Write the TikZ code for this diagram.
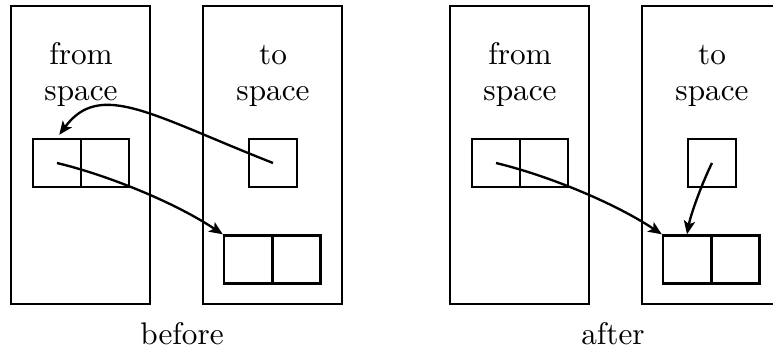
\documentclass[tikz,border=0pt]{standalone}
\usetikzlibrary{arrows.meta}
\begin{document}
\def\px{0.32pt}
\begin{tikzpicture}[x=0.32pt,y=-0.32pt,line width=0.75pt,
  space/.style={draw,minimum width=139*\px,minimum height=298*\px,inner sep=0pt},
  cell/.style={draw,minimum width=48*\px,minimum height=48*\px,inner sep=0pt},
  lbl/.style={anchor=base,inner sep=0pt},
  ptr/.style={-{Stealth[length=4.3pt,width=3.6pt,inset=1pt]}}]
\useasboundingbox (0,0) rectangle (773,352);
% before
\node[space] (bf) at (80.5,155) {};
\node[space] (bt) at (272.5,155) {};
\node[lbl] (bf1) at (81,65) {from};
\node[lbl] (bf2) at (81,101) {space};
\node[lbl] (bt1) at (273,65) {to};
\node[lbl] (bt2) at (273,101) {space};
\node[cell] (ba) at (57,163) {};
\node[cell] (bb) at (105,163) {};
\node[cell] (bc) at (273,163) {};
\node[cell] (bd) at (248,259.5) {};
\node[cell] (be) at (296.5,259.5) {};
\node[lbl] (bl) at (182,345) {before};
\draw[ptr] (ba.center) .. controls (107,175) and (174,202) .. (bd.north west);
\draw[ptr,shorten >=1.2pt] (bc.center) .. controls (151,115) and (100,80) .. (ba.north);
% after
\node[space] (af) at (519.5,155) {};
\node[space] (at) at (711.5,155) {};
\node[lbl] (af1) at (520,65) {from};
\node[lbl] (af2) at (520,101) {space};
\node[lbl] (at1) at (712,65) {to};
\node[lbl] (at2) at (712,101) {space};
\node[cell] (aa) at (496,163) {};
\node[cell] (ab) at (544,163) {};
\node[cell] (ac) at (712,163) {};
\node[cell] (ad) at (687,259.5) {};
\node[cell] (ae) at (735.5,259.5) {};
\node[lbl] (al) at (613,345) {after};
\draw[ptr] (aa.center) .. controls (546,175) and (613,202) .. (ad.north west);
\draw[ptr] (ac.center) .. controls (703,181) and (691,213) .. (ad.north);
\end{tikzpicture}
\end{document}
